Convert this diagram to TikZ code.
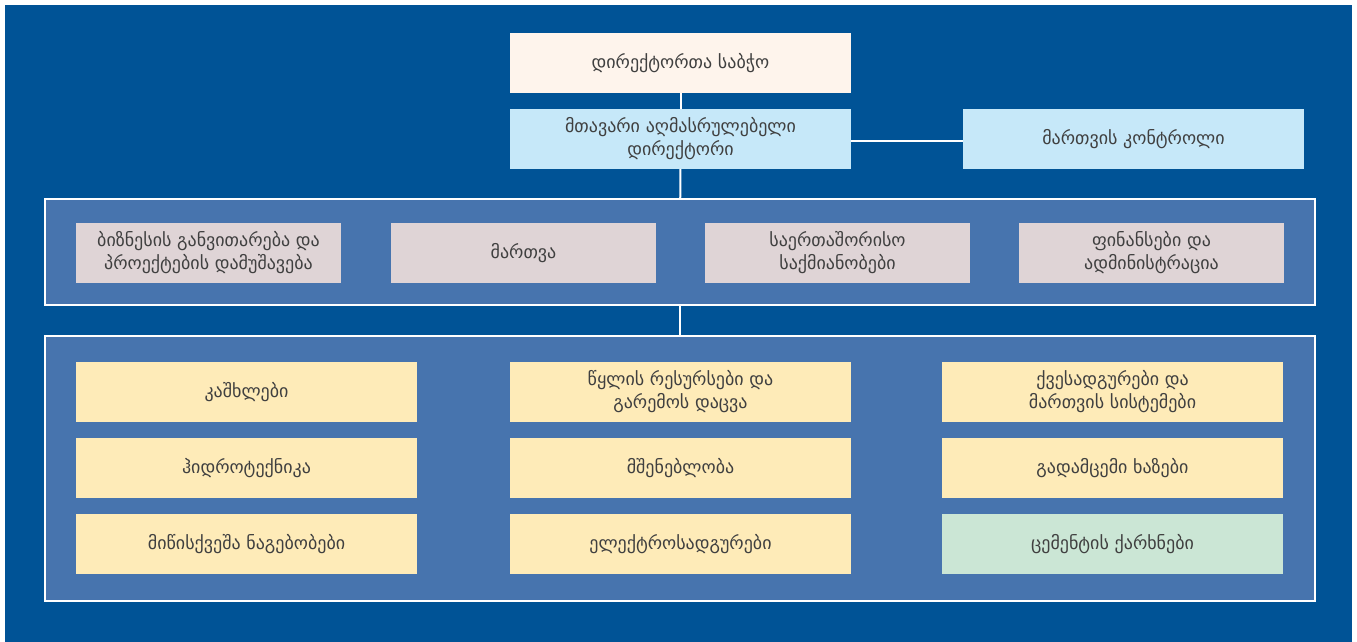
\documentclass[tikz,border=0pt]{standalone}
\usepackage{fontspec}
\setmainfont{DejaVu Sans}
\definecolor{bgblue}{RGB}{0,83,150}
\definecolor{panelblue}{RGB}{71,116,174}
\definecolor{peach}{RGB}{254,244,236}
\definecolor{skyblue}{RGB}{198,232,249}
\definecolor{mauve}{RGB}{223,212,214}
\definecolor{cream}{RGB}{254,235,184}
\definecolor{mint}{RGB}{203,230,213}
\definecolor{txt}{RGB}{64,64,64}
\begin{document}
\begin{tikzpicture}[x=1pt, y=-1pt,
	box/.style={inner sep=0, minimum height=60, align=center, text=txt, font=\fontsize{18}{23}\selectfont},
	wide/.style={box, minimum width=341},
	narrow/.style={box, minimum width=265},
	panel/.style={draw=white, line width=2, fill=panelblue, inner sep=0},
	link/.style={draw=white, line width=2}]
	\useasboundingbox (0,0) rectangle (1357,642);
	\fill[bgblue] (5,5) rectangle (1352,642);

	% top of the chart
	\node[wide, fill=peach] (board) at (680.5,63) {დირექტორთა საბჭო};
	\node[wide, fill=skyblue] (ceo) at (680.5,139) {მთავარი აღმასრულებელი\\დირექტორი};
	\node[wide, fill=skyblue] (control) at (1133.5,139) {მართვის კონტროლი};

	% the two panels
	\node[panel, minimum width=1270, minimum height=106] (units) at (680,252) {};
	\node[panel, minimum width=1270, minimum height=265] (branches) at (680,468.5) {};

	\draw[link] (board) -- (ceo);
	\draw[link] ([yshift=-2]ceo.east) -- ([yshift=-2]control.west);
	\draw[link] (ceo) -- (units);
	\draw[link] (units) -- (branches);

	% departments
	\node[narrow, fill=mauve] (business) at (208.5,253) {ბიზნესის განვითარება და\\პროექტების დამუშავება};
	\node[narrow, fill=mauve] (management) at (523.5,253) {მართვა};
	\node[narrow, fill=mauve] (intl) at (837.5,253) {საერთაშორისო\\საქმიანობები};
	\node[narrow, fill=mauve] (finance) at (1151.5,253) {ფინანსები და\\ადმინისტრაცია};

	% fields of work
	\node[wide, fill=cream] (dams) at (246.5,392) {კაშხლები};
	\node[wide, fill=cream] (hydro) at (246.5,468) {ჰიდროტექნიკა};
	\node[wide, fill=cream] (underground) at (246.5,544) {მიწისქვეშა ნაგებობები};
	\node[wide, fill=cream] (water) at (680.5,392) {წყლის რესურსები და\\გარემოს დაცვა};
	\node[wide, fill=cream] (building) at (680.5,468) {მშენებლობა};
	\node[wide, fill=cream] (plants) at (680.5,544) {ელექტროსადგურები};
	\node[wide, fill=cream] (substations) at (1112.5,392) {ქვესადგურები და\\მართვის სისტემები};
	\node[wide, fill=cream] (lines) at (1112.5,468) {გადამცემი ხაზები};
	\node[wide, fill=mint] (cement) at (1112.5,544) {ცემენტის ქარხნები};
\end{tikzpicture}
\end{document}
